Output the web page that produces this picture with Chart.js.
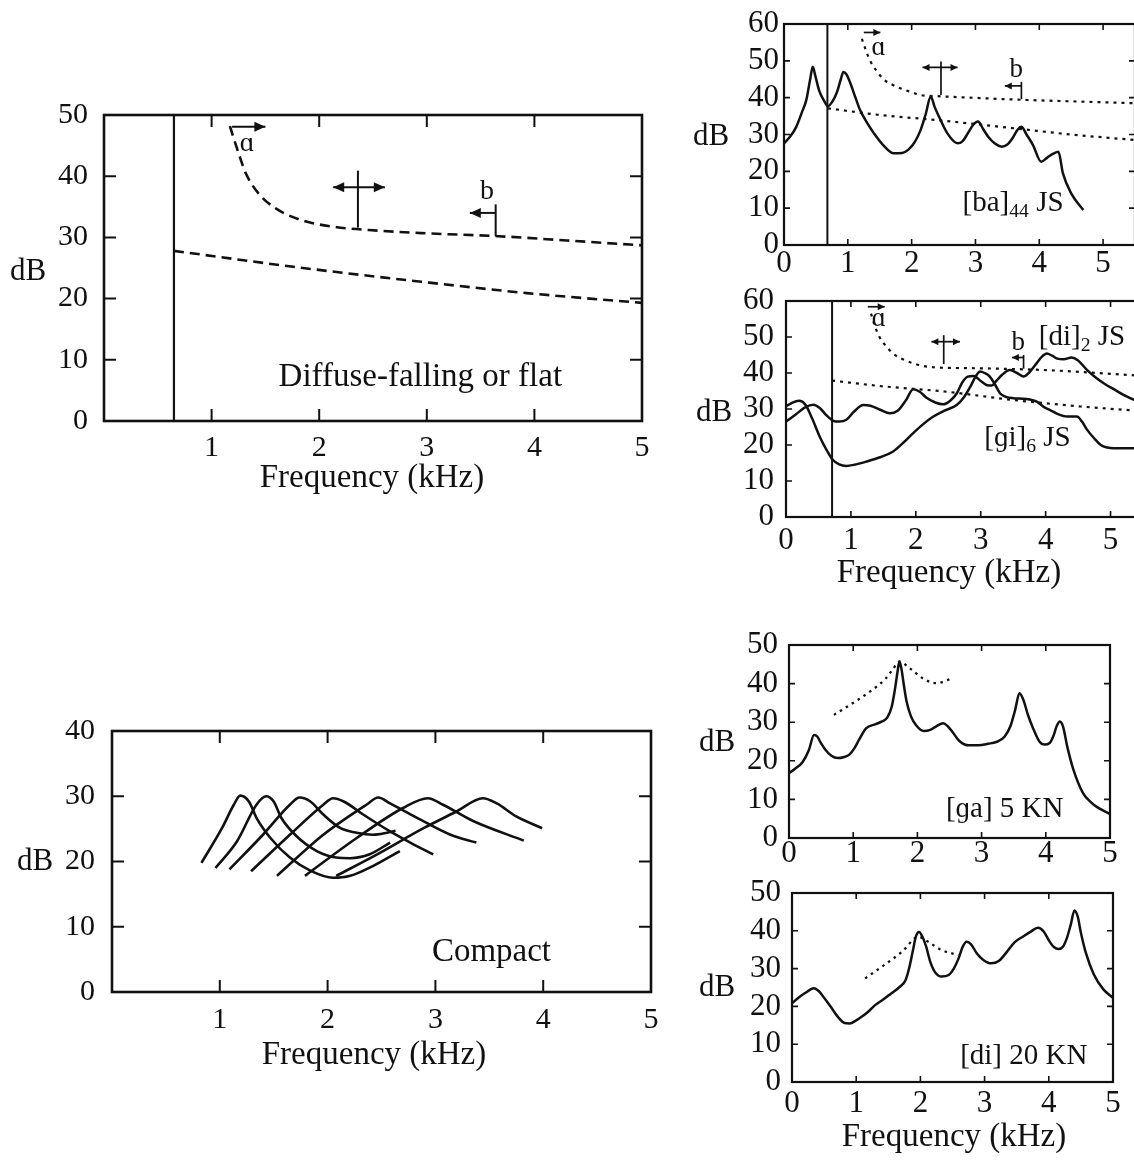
<!DOCTYPE html>
<html><head><meta charset="utf-8">
<script src="https://cdn.jsdelivr.net/npm/chart.js@4.4.1/dist/chart.umd.min.js"></script>
<style>
html,body{margin:0;padding:0;background:#fff;overflow:hidden;width:1134px;height:1162px;position:relative;}
canvas{position:absolute;}
</style></head><body>
<canvas id="p1"></canvas><canvas id="p2"></canvas><canvas id="p3"></canvas>
<canvas id="p4"></canvas><canvas id="p5"></canvas><canvas id="p6"></canvas>
<script>
// ---------------- DATA ----------------
// Panel 1: Diffuse-falling or flat
const diffXTicks = [1, 2, 3, 4, 5];
const diffYTicks = [0, 10, 20, 30, 40, 50];
const diffUpperX = [1.17, 1.2, 1.25, 1.32, 1.44, 1.6, 1.84, 2.15, 2.55, 2.95, 3.66, 4.3, 5.0];
const diffUpperY = [48.2, 46.5, 43.8, 40.4, 37.1, 34.7, 32.8, 31.7, 31.1, 30.7, 30.2, 29.5, 28.7];
const diffLowerX = [0.65, 1.76, 2.95, 3.93, 5.0];
const diffLowerY = [27.8, 25.2, 22.75, 20.9, 19.3];
const diffCut = 0.65;

// Panel 2: [ba]44 JS
const jsXTicks = [0, 1, 2, 3, 4, 5];
const jsYTicks = [0, 10, 20, 30, 40, 50, 60];
const baX = [0, 0.1, 0.19, 0.28, 0.35, 0.41, 0.45, 0.49, 0.55, 0.62, 0.69, 0.76, 0.83, 0.89, 0.93, 0.98, 1.04, 1.12, 1.19, 1.3, 1.41, 1.55, 1.72, 1.85, 1.95, 2.05, 2.14, 2.22, 2.3, 2.36, 2.43, 2.56, 2.72, 2.8, 2.88, 2.96, 3.04, 3.12, 3.2, 3.3, 3.41, 3.5, 3.58, 3.66, 3.72, 3.8, 3.9, 4.03, 4.13, 4.22, 4.3, 4.37, 4.5, 4.69];
const baY = [27.6, 29.5, 32, 36, 39.4, 45, 48.4, 46, 42, 39.4, 37.7, 39, 41.5, 45, 47, 46.3, 43.9, 40, 36.7, 33.2, 30.3, 27.2, 24.9, 25, 25.9, 28, 31.2, 35.5, 40.3, 37.5, 34.8, 30.3, 27.6, 28.2, 30.3, 32.5, 33.5, 31.5, 29.4, 27.6, 26.7, 27.3, 29, 31.3, 32.1, 30, 27.2, 22.6, 23.8, 24.8, 25.3, 19.5, 14, 9.5];
const baUpX = [1.22, 1.28, 1.35, 1.45, 1.56, 1.7, 1.83, 2.0, 2.14, 2.4, 2.8, 3.6, 4.5, 5.5];
const baUpY = [56, 53, 50, 47.3, 45, 43.5, 42.5, 41.5, 40.7, 40.4, 40.1, 39.5, 39, 38.5];
const baLowX = [0.69, 1.5, 2.4, 3.6, 4.5, 5.5];
const baLowY = [37.1, 35.3, 33.9, 31.7, 30, 28.5];
const baCut = 0.68;

// Panel 3: [di]2 JS and [gi]6 JS
const di2X = [0, 0.15, 0.3, 0.42, 0.52, 0.62, 0.72, 0.82, 0.93, 1.05, 1.19, 1.3, 1.45, 1.6, 1.72, 1.85, 1.96, 2.06, 2.16, 2.3, 2.42, 2.53, 2.63, 2.72, 2.8, 2.89, 3.0, 3.1, 3.17, 3.24, 3.33, 3.45, 3.56, 3.66, 3.74, 3.84, 3.94, 4.02, 4.1, 4.18, 4.28, 4.4, 4.5, 4.64, 4.78, 4.9, 5.05, 5.2, 5.37, 5.5];
const di2Y = [26.5, 28.5, 30.5, 31.2, 30.3, 28.3, 26.8, 26.5, 27, 29.3, 31.1, 30.9, 29.8, 28.8, 29.5, 32.5, 35.5, 34.8, 33.2, 31.8, 31.3, 32.3, 34.3, 37.5, 39, 39.2, 37.8, 36.6, 36.5, 37.8, 39.5, 40.8, 40, 39, 40, 42.2, 44.5, 45.4, 44.8, 44, 43.8, 44.3, 43.5, 40.8, 38.6, 37.1, 35.5, 33.9, 32.5, 31.8];
const gi6X = [0, 0.1, 0.2, 0.3, 0.4, 0.52, 0.62, 0.72, 0.82, 0.93, 1.05, 1.24, 1.45, 1.65, 1.8, 1.96, 2.1, 2.27, 2.45, 2.63, 2.75, 2.84, 2.92, 2.99, 3.06, 3.14, 3.22, 3.3, 3.4, 3.5, 3.7, 3.87, 3.97, 4.07, 4.2, 4.33, 4.48, 4.56, 4.64, 4.75, 4.85, 4.95, 5.05, 5.37, 5.5];
const gi6Y = [30.7, 31.8, 32.3, 31.2, 27.5, 22.3, 18.8, 15.9, 14.6, 14.2, 14.5, 15.4, 16.6, 18.2, 20.5, 23.3, 25.6, 27.9, 29.6, 31.1, 33.5, 36.2, 39, 40.4, 40, 39, 36.8, 34.3, 33.3, 33, 32.8, 32, 30.6, 29.7, 28.5, 27.9, 27.9, 26.5, 24.2, 21.8, 20, 19.3, 19.1, 19.1, 19.1];
const jsUpX = [1.31, 1.37, 1.44, 1.54, 1.65, 1.8, 1.96, 2.1, 2.27, 2.6, 3.0, 4.02, 4.8, 5.5];
const jsUpY = [56.5, 53, 50, 47.5, 45.4, 43.8, 42.7, 42, 41.6, 41.4, 41.3, 40.8, 40, 39.2];
const jsLowX = [0.71, 1.44, 2.47, 3.5, 4.54, 5.5];
const jsLowY = [37.9, 36.4, 34.8, 32.5, 30.7, 29.4];
const jsCut = 0.71;

// Panel 4: Compact
const compXTicks = [1, 2, 3, 4, 5];
const compYTicks = [0, 10, 20, 30, 40];
const c1X = [0.83, 1.02, 1.13, 1.19, 1.27, 1.34, 1.47, 1.65, 1.84, 2.05, 2.21, 2.42, 2.67];
const c1Y = [19.8, 25.1, 28.7, 30.1, 29.2, 26.7, 23.6, 20.6, 18.6, 17.5, 17.8, 19.3, 21.6];
const c2X = [0.96, 1.16, 1.34, 1.43, 1.5, 1.57, 1.71, 1.9, 2.08, 2.21, 2.39, 2.58];
const c2Y = [19.0, 23.1, 28.7, 30.0, 29.2, 26.7, 23.9, 21.6, 20.6, 20.5, 21.1, 22.9];
const c3X = [1.09, 1.40, 1.65, 1.74, 1.84, 1.96, 2.12, 2.27, 2.42, 2.55, 2.63];
const c3Y = [18.8, 24.1, 28.7, 29.8, 29.2, 27.2, 25.1, 24.4, 24.1, 24.4, 24.7];
const c4X = [1.29, 1.65, 1.96, 2.05, 2.15, 2.33, 2.58, 2.8, 2.98];
const c4Y = [18.5, 24.1, 28.7, 29.7, 29.2, 27.2, 24.6, 22.6, 21.1];
const c5X = [1.53, 1.96, 2.36, 2.47, 2.58, 2.83, 3.14, 3.38];
const c5Y = [17.8, 24.1, 28.7, 29.8, 28.9, 26.7, 24.1, 22.9];
const c6X = [1.79, 2.27, 2.7, 2.93, 3.07, 3.35, 3.82];
const c6Y = [17.8, 23.6, 28.2, 29.7, 28.7, 26.2, 23.2];
const c7X = [2.08, 2.46, 2.89, 3.2, 3.44, 3.57, 3.75, 3.99];
const c7Y = [17.8, 21.1, 25.1, 27.7, 29.7, 28.9, 26.9, 25.1];

// Panel 5: [ga] 5 KN
const knXTicks = [0, 1, 2, 3, 4, 5];
const knYTicks = [0, 10, 20, 30, 40, 50];
const gaX = [0, 0.1, 0.21, 0.31, 0.39, 0.44, 0.5, 0.57, 0.66, 0.76, 0.86, 0.94, 1.02, 1.09, 1.2, 1.35, 1.45, 1.53, 1.6, 1.65, 1.69, 1.72, 1.75, 1.79, 1.83, 1.9, 1.98, 2.1, 2.2, 2.3, 2.4, 2.47, 2.55, 2.65, 2.8, 2.95, 3.1, 3.25, 3.36, 3.45, 3.52, 3.59, 3.65, 3.72, 3.8, 3.9, 3.98, 4.06, 4.12, 4.17, 4.22, 4.27, 4.33, 4.43, 4.58, 4.7, 4.8, 5.0];
const gaY = [16.8, 18, 19.6, 22.8, 26.7, 26.3, 24.5, 22.8, 21.3, 20.7, 21, 21.6, 23.3, 25.4, 28.4, 29.5, 30.2, 31.2, 34, 38.5, 43, 45.7, 44, 39.5, 35.5, 31.5, 29.2, 27.7, 28, 29, 29.7, 29, 27.4, 25.2, 24, 24, 24.4, 25, 26.3, 29, 33, 37.5, 35.8, 32, 28.5, 25, 24.2, 24.6, 26.5, 29, 30.2, 28.8, 24, 17.7, 11.6, 9.3, 8, 6.2];
const gaDotX = [0.7, 0.99, 1.3, 1.5, 1.61, 1.72, 1.88, 2.08, 2.29, 2.55];
const gaDotY = [31.9, 34.9, 38.4, 41.2, 43.5, 45.7, 44, 41.4, 40.1, 41.4];

// Panel 6: [di] 20 KN
const di20X = [0, 0.1, 0.21, 0.34, 0.42, 0.52, 0.62, 0.72, 0.82, 0.9, 1.0, 1.09, 1.2, 1.3, 1.42, 1.55, 1.68, 1.77, 1.83, 1.88, 1.93, 1.98, 2.03, 2.09, 2.15, 2.23, 2.33, 2.44, 2.52, 2.59, 2.66, 2.72, 2.79, 2.88, 2.98, 3.1, 3.22, 3.35, 3.47, 3.6, 3.72, 3.83, 3.92, 4.0, 4.08, 4.15, 4.22, 4.28, 4.34, 4.4, 4.45, 4.5, 4.58, 4.7, 4.85, 5.0];
const di20Y = [20.8, 22.3, 23.6, 24.8, 24, 21.8, 19.5, 17.1, 15.6, 15.5, 16.3, 17.3, 18.8, 20.4, 21.8, 23.5, 25.2, 27, 30.5, 34.5, 38.5, 39.7, 38.5, 35.8, 32, 29, 27.9, 28.3, 30, 32.5, 35.8, 37.1, 36.4, 34, 32.3, 31.4, 32, 34.5, 37, 38.5, 39.8, 40.8, 39.8, 37.5, 35.7, 35.2, 35.8, 38, 41.5, 45.4, 43.8, 39.5, 34, 28.5, 24.5, 22.3];
const di20DotX = [1.14, 1.4, 1.71, 1.97, 2.12, 2.33, 2.59];
const di20DotY = [27.4, 30.5, 34.4, 38.4, 37.1, 34.9, 33.6];

// ---------------- RENDERING ----------------
const FONT = '"Liberation Serif", "Times New Roman", serif';
const INK = '#111';
const WY = 110, PT = 30, PR = 30, HX = 110;
const DECO = {};

function pts(xs, ys) { return xs.map((x, i) => ({ x: x, y: ys[i] })); }
function solid(xs, ys, w) {
  return { data: pts(xs, ys), borderColor: INK, borderWidth: w, pointRadius: 0, fill: false, cubicInterpolationMode: 'monotone' };
}
function dashed(xs, ys, w, dash) { const d = solid(xs, ys, w); d.borderDash = dash; return d; }
function vline(xv, y0, y1, w) {
  return { data: [{ x: xv, y: y0 }, { x: xv, y: y1 }], borderColor: INK, borderWidth: w, pointRadius: 0, tension: 0 };
}

function setFont(ctx, size) { ctx.font = size + 'px ' + FONT; }

function arrowHead(ctx, x1, y1, x2, y2, L, W) {
  const a = Math.atan2(y2 - y1, x2 - x1), c = Math.cos(a), s = Math.sin(a);
  ctx.beginPath();
  ctx.moveTo(x2, y2);
  ctx.lineTo(x2 - L * c + W * s, y2 - L * s - W * c);
  ctx.lineTo(x2 - L * c - W * s, y2 - L * s + W * c);
  ctx.closePath(); ctx.fill();
}

function drawRich(ctx, cx, cy, parts, size) {
  let total = 0;
  parts.forEach(p => { setFont(ctx, p.sub ? size * 0.68 : size); total += ctx.measureText(p.t).width; });
  let x = cx - total / 2;
  ctx.textAlign = 'left'; ctx.textBaseline = 'alphabetic';
  const base = cy + size * 0.33;
  parts.forEach(p => {
    const sz = p.sub ? size * 0.68 : size;
    setFont(ctx, sz);
    ctx.fillText(p.t, x, p.sub ? base + size * 0.2 : base);
    x += ctx.measureText(p.t).width;
  });
}

const decoPlugin = {
  id: 'deco',
  afterDatasetsDraw(chart) {
    const d = DECO[chart.canvas.id];
    if (!d) return;
    const ctx = chart.ctx, a = chart.chartArea, xs = chart.scales.x, ys = chart.scales.y;
    const X = v => xs.getPixelForValue(v), Y = v => ys.getPixelForValue(v);
    ctx.save();
    ctx.strokeStyle = INK; ctx.fillStyle = INK; ctx.lineCap = 'butt';
    ctx.lineWidth = d.frame;
    ctx.strokeRect(a.left, a.top, a.right - a.left, a.bottom - a.top);
    ctx.lineWidth = d.tickW;
    ctx.beginPath();
    xs.ticks.forEach(t => {
      const px = X(t.value);
      ctx.moveTo(px, a.bottom); ctx.lineTo(px, a.bottom - d.tickLen);
      ctx.moveTo(px, a.top); ctx.lineTo(px, a.top + d.tickLen);
    });
    ys.ticks.forEach(t => {
      const py = Y(t.value);
      ctx.moveTo(a.left, py); ctx.lineTo(a.left + d.tickLen, py);
      ctx.moveTo(a.right, py); ctx.lineTo(a.right - d.tickLen, py);
    });
    ctx.stroke();
    (d.marks || []).forEach(m => {
      if (m.type === 'seg') {
        ctx.lineWidth = m.w || d.markW;
        ctx.beginPath(); ctx.moveTo(X(m.x1), Y(m.y1)); ctx.lineTo(X(m.x2), Y(m.y2)); ctx.stroke();
      } else if (m.type === 'arrow') {
        const x1 = X(m.x1), y1 = Y(m.y1), x2 = X(m.x2), y2 = Y(m.y2);
        ctx.lineWidth = m.w || d.markW;
        ctx.beginPath(); ctx.moveTo(x1, y1); ctx.lineTo(x2, y2); ctx.stroke();
        arrowHead(ctx, x1, y1, x2, y2, d.headL, d.headW);
        if (m.both) arrowHead(ctx, x2, y2, x1, y1, d.headL, d.headW);
      } else if (m.type === 'text') {
        setFont(ctx, m.size); ctx.textAlign = 'center'; ctx.textBaseline = 'middle';
        ctx.fillText(m.t, X(m.x), Y(m.y));
      } else if (m.type === 'rich') {
        drawRich(ctx, X(m.x), Y(m.y), m.parts, m.size);
      }
    });
    (d.page || []).forEach(p => {
      setFont(ctx, p.size); ctx.textAlign = 'center'; ctx.textBaseline = 'middle';
      ctx.fillText(p.t, p.x - d.ox, p.y - d.oy);
    });
    ctx.restore();
  }
};

function makePanel(cfg) {
  const cv = document.getElementById(cfg.id);
  const A = cfg.area;
  const W = Math.round(A.r - A.l + WY + PR), H = Math.round(A.b - A.t + PT + HX);
  cv.width = W; cv.height = H;
  cv.style.width = W + 'px'; cv.style.height = H + 'px';
  const ox = A.l - WY, oy = A.t - PT;
  cv.style.left = ox + 'px'; cv.style.top = oy + 'px';
  DECO[cfg.id] = Object.assign({ ox: ox, oy: oy }, cfg.deco);
  const tickFont = { family: FONT, size: cfg.tickSize, lineHeight: 1 };
  new Chart(cv, {
    type: 'line',
    data: { datasets: cfg.datasets },
    options: {
      responsive: false, animation: false, devicePixelRatio: 1,
      layout: { padding: { left: 0, top: PT, right: PR, bottom: 0 } },
      plugins: { legend: { display: false }, tooltip: { enabled: false } },
      elements: { point: { radius: 0 } },
      scales: {
        x: {
          type: 'linear', min: cfg.xmin, max: cfg.xmax,
          afterBuildTicks: s => { s.ticks = cfg.xticks.map(v => ({ value: v })); },
          afterFit: s => { s.height = HX; },
          grid: { display: false, drawTicks: false }, border: { display: false },
          ticks: { padding: cfg.xpad, font: tickFont, color: INK, maxRotation: 0, autoSkip: false }
        },
        y: {
          type: 'linear', min: cfg.ymin, max: cfg.ymax,
          afterBuildTicks: s => { s.ticks = cfg.yticks.map(v => ({ value: v })); },
          afterFit: s => { s.width = WY; },
          grid: { display: false, drawTicks: false }, border: { display: false },
          ticks: { padding: cfg.ypad, font: tickFont, color: INK, autoSkip: false }
        }
      }
    },
    plugins: [decoPlugin]
  });
}

// Panel 1
makePanel({
  id: 'p1', area: { l: 104, t: 114, r: 642, b: 421 },
  xmin: 0, xmax: 5, ymin: 0, ymax: 50, xticks: diffXTicks, yticks: diffYTicks,
  xpad: 12, ypad: 16, tickSize: 30,
  datasets: [
    vline(diffCut, 0, 50, 2.2),
    dashed(diffUpperX, diffUpperY, 2.6, [10, 6]),
    dashed(diffLowerX, diffLowerY, 2.6, [10, 6])
  ],
  deco: {
    frame: 2.6, tickW: 2, tickLen: 12, markW: 2, headL: 11, headW: 5,
    marks: [
      { type: 'arrow', x1: 1.19, y1: 48.1, x2: 1.5, y2: 48.1 },
      { type: 'text', x: 1.33, y: 45.3, t: 'ɑ', size: 28 },
      { type: 'arrow', x1: 2.13, y1: 38.2, x2: 2.61, y2: 38.2, both: true },
      { type: 'seg', x1: 2.36, y1: 40.9, x2: 2.36, y2: 31.6 },
      { type: 'text', x: 3.56, y: 37.4, t: 'b', size: 28 },
      { type: 'arrow', x1: 3.64, y1: 34, x2: 3.4, y2: 34 },
      { type: 'seg', x1: 3.64, y1: 35.4, x2: 3.64, y2: 30.2 },
      { type: 'text', x: 2.94, y: 7.2, t: 'Diffuse-falling or flat', size: 33 }
    ],
    page: [
      { t: 'dB', x: 28, y: 272, size: 31 },
      { t: 'Frequency (kHz)', x: 372, y: 478, size: 33 }
    ]
  }
});

// Panel 2
makePanel({
  id: 'p2', area: { l: 784, t: 24, r: 1135, b: 245 },
  xmin: 0, xmax: 5.5, ymin: 0, ymax: 60, xticks: jsXTicks, yticks: jsYTicks,
  xpad: 3, ypad: 5, tickSize: 31,
  datasets: [
    vline(baCut, 0, 60, 2),
    dashed(baUpX, baUpY, 2.2, [3, 5]),
    dashed(baLowX, baLowY, 2.2, [3, 5]),
    solid(baX, baY, 2.5)
  ],
  deco: {
    frame: 2.2, tickW: 1.6, tickLen: 6, markW: 1.7, headL: 7, headW: 3.5,
    marks: [
      { type: 'arrow', x1: 1.25, y1: 57.7, x2: 1.51, y2: 57.7 },
      { type: 'text', x: 1.48, y: 53.6, t: 'ɑ', size: 27 },
      { type: 'arrow', x1: 2.17, y1: 48.2, x2: 2.72, y2: 48.2, both: true },
      { type: 'seg', x1: 2.46, y1: 49.8, x2: 2.46, y2: 40.7 },
      { type: 'text', x: 3.64, y: 47.5, t: 'b', size: 27 },
      { type: 'arrow', x1: 3.72, y1: 43.2, x2: 3.46, y2: 43.2 },
      { type: 'seg', x1: 3.72, y1: 44.3, x2: 3.72, y2: 39.6 },
      { type: 'rich', x: 3.59, y: 11.8, size: 29, parts: [{ t: '[ba]' }, { t: '44', sub: true }, { t: ' JS' }] }
    ],
    page: [{ t: 'dB', x: 711, y: 137, size: 31 }]
  }
});

// Panel 3
makePanel({
  id: 'p3', area: { l: 786, t: 301, r: 1143, b: 517 },
  xmin: 0, xmax: 5.5, ymin: 0, ymax: 60, xticks: jsXTicks, yticks: jsYTicks,
  xpad: 8, ypad: 12, tickSize: 31,
  datasets: [
    vline(jsCut, 0, 60, 2),
    dashed(jsUpX, jsUpY, 2.2, [3, 5]),
    dashed(jsLowX, jsLowY, 2.2, [3, 5]),
    solid(di2X, di2Y, 2.5),
    solid(gi6X, gi6Y, 2.5)
  ],
  deco: {
    frame: 2.2, tickW: 1.6, tickLen: 6, markW: 1.7, headL: 7, headW: 3.5,
    marks: [
      { type: 'arrow', x1: 1.26, y1: 58.4, x2: 1.52, y2: 58.4 },
      { type: 'text', x: 1.43, y: 54.9, t: 'ɑ', size: 27 },
      { type: 'arrow', x1: 2.24, y1: 48.7, x2: 2.68, y2: 48.7, both: true },
      { type: 'seg', x1: 2.43, y1: 50.5, x2: 2.43, y2: 42.5 },
      { type: 'text', x: 3.58, y: 48.4, t: 'b', size: 27 },
      { type: 'arrow', x1: 3.66, y1: 44.3, x2: 3.48, y2: 44.3 },
      { type: 'seg', x1: 3.66, y1: 45, x2: 3.66, y2: 41.2 },
      { type: 'rich', x: 4.56, y: 50.5, size: 29, parts: [{ t: '[di]' }, { t: '2', sub: true }, { t: ' JS' }] },
      { type: 'rich', x: 3.72, y: 22.3, size: 29, parts: [{ t: '[ɡi]' }, { t: '6', sub: true }, { t: ' JS' }] }
    ],
    page: [
      { t: 'dB', x: 714, y: 413, size: 31 },
      { t: 'Frequency (kHz)', x: 949, y: 573, size: 33 }
    ]
  }
});

// Panel 4
makePanel({
  id: 'p4', area: { l: 112, t: 729, r: 651, b: 992 },
  xmin: 0, xmax: 5, ymin: 0, ymax: 40, xticks: compXTicks, yticks: compYTicks,
  xpad: 13, ypad: 17, tickSize: 30,
  datasets: [
    solid(c1X, c1Y, 2.6), solid(c2X, c2Y, 2.6), solid(c3X, c3Y, 2.6), solid(c4X, c4Y, 2.6),
    solid(c5X, c5Y, 2.6), solid(c6X, c6Y, 2.6), solid(c7X, c7Y, 2.6)
  ],
  deco: {
    frame: 2.6, tickW: 2, tickLen: 12, markW: 2, headL: 10, headW: 5,
    marks: [{ type: 'text', x: 3.52, y: 6.1, t: 'Compact', size: 33 }],
    page: [
      { t: 'dB', x: 35, y: 862, size: 31 },
      { t: 'Frequency (kHz)', x: 374, y: 1055, size: 33 }
    ]
  }
});

// Panel 5
makePanel({
  id: 'p5', area: { l: 789, t: 645, r: 1110, b: 838 },
  xmin: 0, xmax: 5, ymin: 0, ymax: 50, xticks: knXTicks, yticks: knYTicks,
  xpad: 0, ypad: 11, tickSize: 31,
  datasets: [
    dashed(gaDotX, gaDotY, 2.3, [2.5, 4.5]),
    solid(gaX, gaY, 2.5)
  ],
  deco: {
    frame: 2.2, tickW: 1.6, tickLen: 6, markW: 1.7, headL: 7, headW: 3.5,
    marks: [{ type: 'text', x: 3.36, y: 7.3, t: '[ɡa] 5 KN', size: 29 }],
    page: [{ t: 'dB', x: 717, y: 743, size: 31 }]
  }
});

// Panel 6
makePanel({
  id: 'p6', area: { l: 792, t: 893, r: 1113, b: 1082 },
  xmin: 0, xmax: 5, ymin: 0, ymax: 50, xticks: knXTicks, yticks: knYTicks,
  xpad: 6, ypad: 11, tickSize: 31,
  datasets: [
    dashed(di20DotX, di20DotY, 2.3, [2.5, 4.5]),
    solid(di20X, di20Y, 2.5)
  ],
  deco: {
    frame: 2.2, tickW: 1.6, tickLen: 6, markW: 1.7, headL: 7, headW: 3.5,
    marks: [{ type: 'text', x: 3.61, y: 6.8, t: '[di] 20 KN', size: 29 }],
    page: [
      { t: 'dB', x: 717, y: 988, size: 31 },
      { t: 'Frequency (kHz)', x: 954, y: 1137, size: 33 }
    ]
  }
});
</script>
</body></html>
